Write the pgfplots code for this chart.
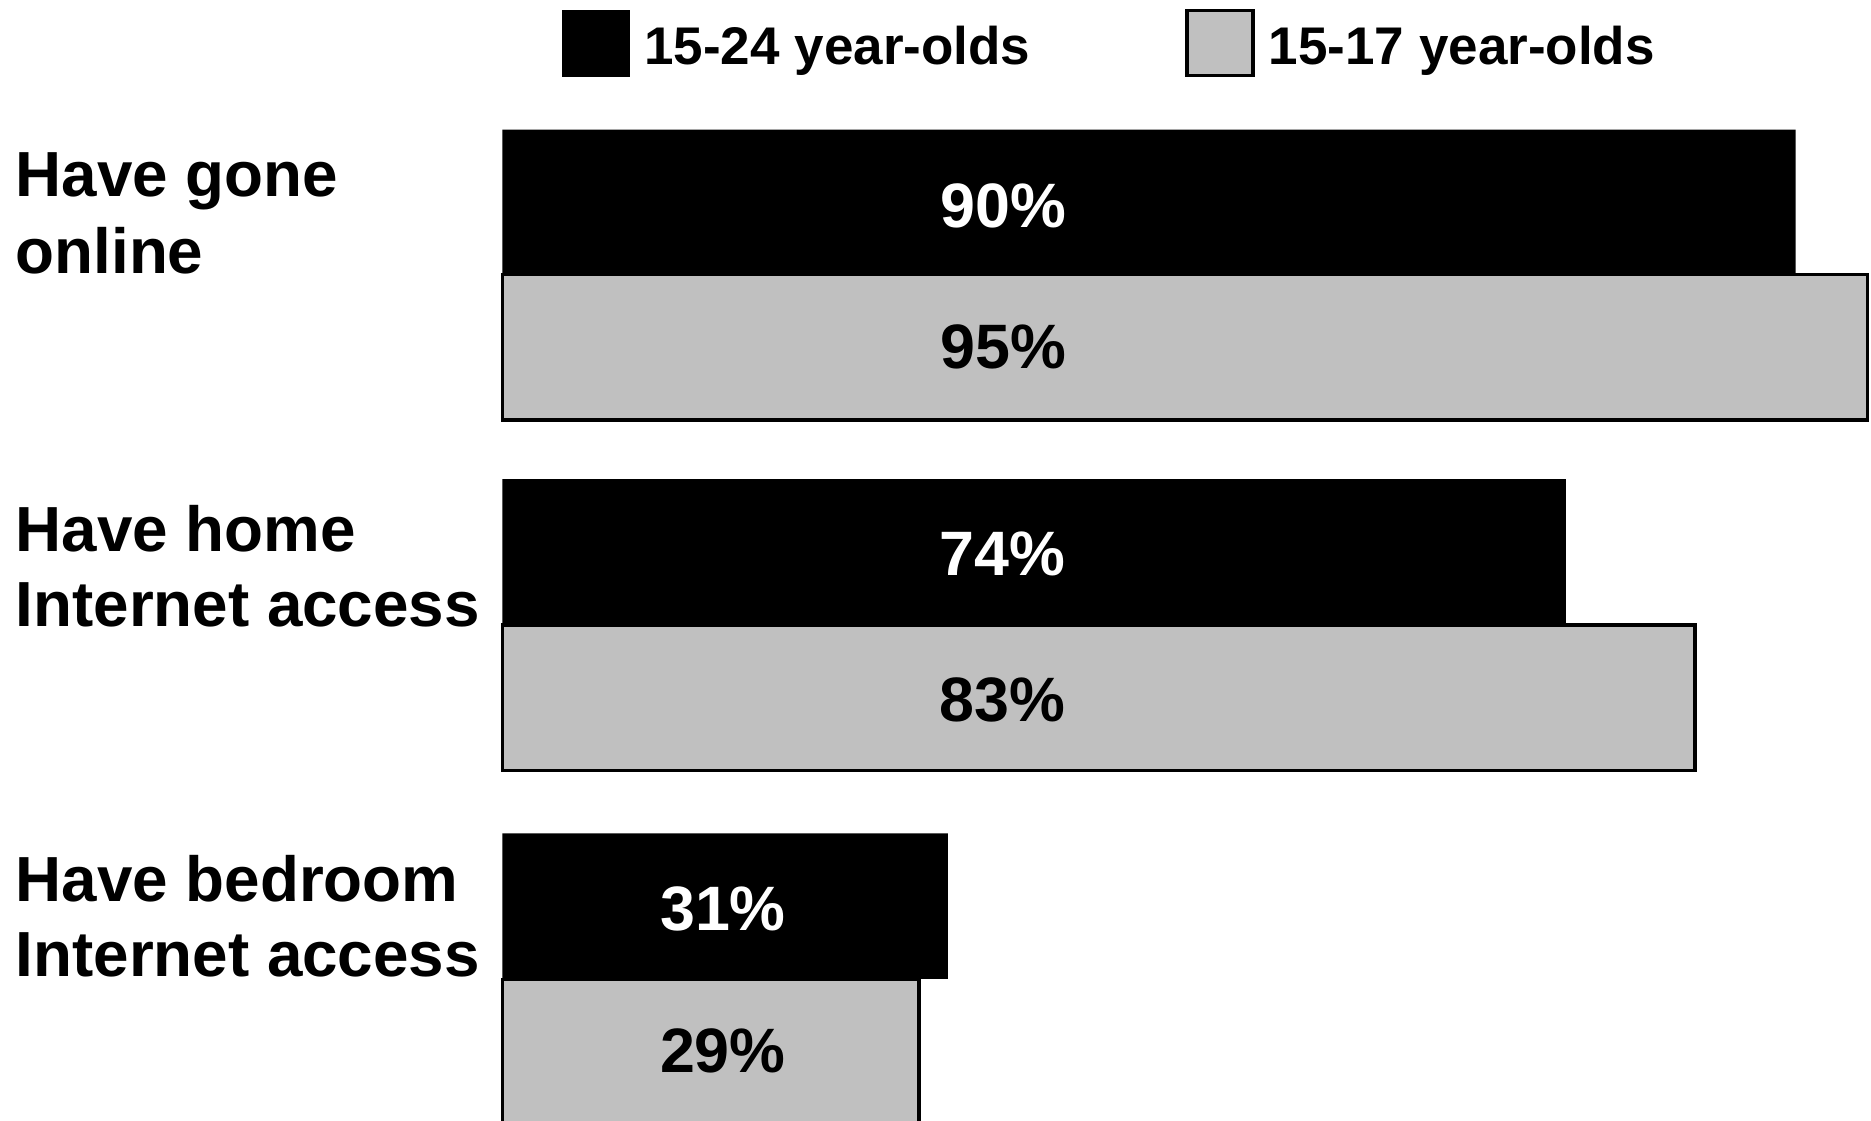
\documentclass[border=0pt]{standalone}
\usepackage{fontspec}
\setmainfont{Liberation Sans}
\usepackage{pgfplots}
\pgfplotsset{compat=1.18}
\definecolor{barGray}{HTML}{C0C0C0}
\pgfplotsset{sqlegend/.style={legend image code/.code={\draw[##1] (0pt,-5.4pt) rectangle (13.2pt,7.6pt);}}}
\newcommand{\catfont}{\fontsize{12.75pt}{15pt}\selectfont\bfseries}
\newcommand{\valfont}{\fontsize{12.55pt}{15pt}\selectfont\bfseries}

\begin{document}
\begin{tikzpicture}
\begin{axis}[
  scale only axis, width=273.72pt, height=224.2pt,
  xmin=0, xmax=95.24, ymin=0, ymax=11.21, y dir=reverse,
  axis lines=none, xtick=\empty, ytick=\empty,
  clip=false,
  xbar, bar width=29.1pt, bar shift=0pt,
  legend columns=2,
  legend style={draw=none, fill=none, inner sep=0pt, outer sep=0pt,
     at={(axis description cs:0.04377,0.99197)}, anchor=north west,
     font=\fontsize{10.6pt}{12pt}\selectfont\bfseries,
     nodes={inner sep=0pt, outer sep=0pt},
     /tikz/every odd column/.style={column sep=2.82pt},
     /tikz/every even column/.style={column sep=31.0pt}},
]
\addplot[fill=black, draw=none, sqlegend] coordinates {(90,2.025) (74,5.519) (31,9.06)};
\addlegendentry{15-24 year-olds}
\addplot[fill=barGray, draw=black, line width=0.7pt, sqlegend] coordinates {(95,3.475) (83,6.975) (29,10.52)};
\addlegendentry{15-17 year-olds}

\node[anchor=base west, font=\catfont] at (axis cs:-35.1,1.965) {Have gone};
\node[anchor=base west, font=\catfont] at (axis cs:-35.1,2.735) {online};
\node[anchor=base west, font=\catfont] at (axis cs:-35.1,5.51) {Have home};
\node[anchor=base west, font=\catfont] at (axis cs:-35.1,6.26) {Internet access};
\node[anchor=base west, font=\catfont] at (axis cs:-35.1,9.01) {Have bedroom};
\node[anchor=base west, font=\catfont] at (axis cs:-35.1,9.76) {Internet access};

\node[font=\valfont, text=white, inner sep=0pt] at (axis cs:34.86,2.063) {90\%};
\node[font=\valfont, text=black, inner sep=0pt] at (axis cs:34.86,3.467) {95\%};
\node[font=\valfont, text=white, inner sep=0pt] at (axis cs:34.82,5.536) {74\%};
\node[font=\valfont, text=black, inner sep=0pt] at (axis cs:34.82,7.004) {83\%};
\node[font=\valfont, text=white, inner sep=0pt] at (axis cs:15.35,9.09) {31\%};
\node[font=\valfont, text=black, inner sep=0pt] at (axis cs:15.34,10.51) {29\%};
\end{axis}
\pgfresetboundingbox
\path[use as bounding box] ([xshift=-100.48pt]current axis.south west) rectangle (current axis.north east);
\end{tikzpicture}
\end{document}
